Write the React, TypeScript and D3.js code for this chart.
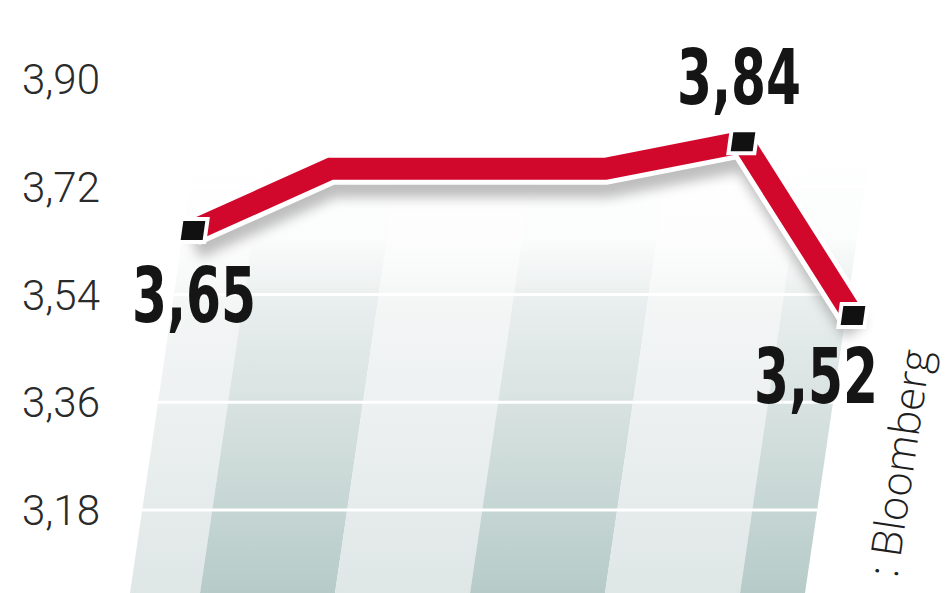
import * as d3 from "d3";
import React, { useEffect } from "react";

const width = 948;
const height = 593;

// y axis
const tickValues = [3.18, 3.36, 3.54, 3.72, 3.9];
const tickLabels = ["3,18", "3,36", "3,54", "3,72", "3,90"];

// the rate line (x = period index)
const periods = [0, 1, 3, 4, 4.8];
const rates = [3.647, 3.75, 3.75, 3.795, 3.505];

// marked points with their printed values
const calloutIndex = [0, 3, 4];
const calloutText = ["3,65", "3,84", "3,52"];

// only the tail of the source line is inside the frame
const sourceText = ": Bloomberg";

// background columns
const columns = d3.range(6);

// layout bits (offsets of the value labels from their points)
const calloutOffset = [
  [1, 92],
  [-4, -38],
  [-37, 88],
];

export default function App() {
  useEffect(() => {
    document.body.style.margin = "0";
    document.body.style.overflow = "hidden";
  }, []);

  const x = d3.scaleLinear().domain([0, 4.8]).range([193, 853]);
  const y = d3.scaleLinear().domain([3.18, 3.9]).range([510, 79]);

  // slanted "perspective" panel behind the line
  const skew = 0.147;
  const bottom = height;
  const top = 150;
  const shift = (yy: number) => skew * (bottom - yy);
  const left0 = 130;
  const right0 = 805;
  const panel = [
    [left0, bottom],
    [right0, bottom],
    [right0 + shift(top), top],
    [left0 + shift(top), top],
  ];

  const band = d3.scaleBand<number>().domain(columns).range([65, 875]);

  const line = d3
    .line<number>()
    .x((i) => x(periods[i]))
    .y((i) => y(rates[i]));
  const linePath = line(d3.range(rates.length)) as string;

  return (
    <svg width={width} height={height} style={{ display: "block", background: "#fff" }}>
      <defs>
        <clipPath id="panel">
          <polygon points={panel.map((p) => p.join(",")).join(" ")} />
        </clipPath>
        <linearGradient id="dark" gradientUnits="userSpaceOnUse" x1="0" y1={top} x2="0" y2={bottom}>
          <stop offset="0" stopColor="#ffffff" />
          <stop offset="0.2" stopColor="#fbfcfc" />
          <stop offset="0.35" stopColor="#e8eeed" />
          <stop offset="0.6" stopColor="#d6e1df" />
          <stop offset="1" stopColor="#b6cbc8" />
        </linearGradient>
        <linearGradient id="light" gradientUnits="userSpaceOnUse" x1="0" y1={top} x2="0" y2={bottom}>
          <stop offset="0" stopColor="#ffffff" />
          <stop offset="0.2" stopColor="#fdfdfd" />
          <stop offset="0.35" stopColor="#f4f6f6" />
          <stop offset="1" stopColor="#dfe7e6" />
        </linearGradient>
        <filter id="blur" x="-10%" y="-50%" width="120%" height="200%">
          <feGaussianBlur stdDeviation="6" />
        </filter>
      </defs>

      <g clipPath="url(#panel)">
        {columns.map((c) => {
          const x0 = band(c) as number;
          const x1 = x0 + band.bandwidth();
          const pts = [
            [x0, bottom],
            [x1, bottom],
            [x1 + shift(top), top],
            [x0 + shift(top), top],
          ];
          return (
            <polygon
              key={c}
              points={pts.map((p) => p.join(",")).join(" ")}
              fill={c % 2 === 0 ? "url(#light)" : "url(#dark)"}
            />
          );
        })}
        {tickValues.map((t) => (
          <line
            key={t}
            x1={left0 + shift(y(t)) - 5}
            x2={right0 + shift(y(t)) + 5}
            y1={y(t)}
            y2={y(t)}
            stroke="#ffffff"
            strokeWidth={3}
          />
        ))}
      </g>

      {/* shadow under the ribbon */}
      <path
        d={linePath}
        transform="translate(2,16)"
        fill="none"
        stroke="#8a8a8a"
        strokeWidth={26}
        opacity={0.55}
        filter="url(#blur)"
      />
      <path d={linePath} fill="none" stroke="#ffffff" strokeWidth={32} strokeLinejoin="miter" />
      <path d={linePath} fill="none" stroke="#d1072b" strokeWidth={22} strokeLinejoin="miter" />

      {calloutIndex.map((i) => (
        <rect
          key={i}
          x={-13}
          y={-11.5}
          width={26}
          height={23}
          transform={`translate(${x(periods[i])},${y(rates[i])}) skewX(-8)`}
          fill="#111"
          stroke="#ffffff"
          strokeWidth={4}
        />
      ))}

      {calloutIndex.map((i, k) => (
        <text
          key={i}
          x={x(periods[i]) + calloutOffset[k][0]}
          y={y(rates[i]) + calloutOffset[k][1]}
          textAnchor="middle"
          fontFamily="'Liberation Sans Narrow', 'DejaVu Sans Condensed', sans-serif"
          fontWeight="bold"
          fontSize={76}
          textLength={124}
          lengthAdjust="spacingAndGlyphs"
          fill="#151515"
        >
          {calloutText[k]}
        </text>
      ))}

      {tickValues.map((t, k) => (
        <text
          key={t}
          x={22}
          y={y(t) + 15}
          fontFamily="Roboto, sans-serif"
          fontWeight={300}
          fontSize={42}
          fill="#2a2a2a"
        >
          {tickLabels[k]}
        </text>
      ))}

      <text
        transform="translate(931,352) rotate(-81.5)"
        textAnchor="end"
        fontFamily="'Open Sans', sans-serif"
        fontWeight={300}
        fontSize={42}
        fill="#1e1e1e"
      >
        {sourceText}
      </text>
    </svg>
  );
}
